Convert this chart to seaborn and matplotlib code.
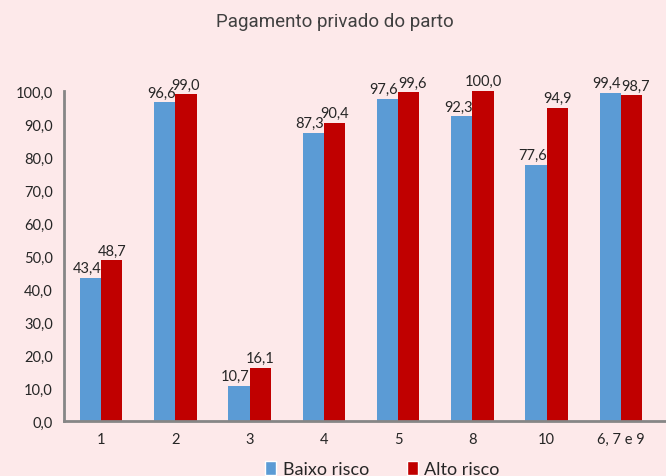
import matplotlib
matplotlib.use("Agg")
import matplotlib.pyplot as plt
import seaborn as sns
import pandas as pd
from matplotlib.patches import Patch

categories = ["1", "2", "3", "4", "5", "8", "10", "6, 7 e 9"]
baixo = [43.4, 96.6, 10.7, 87.3, 97.6, 92.3, 77.6, 99.4]
alto = [48.7, 99.0, 16.1, 90.4, 99.6, 100.0, 94.9, 98.7]
series = ["Baixo risco", "Alto risco"]
yticks = [0, 10, 20, 30, 40, 50, 60, 70, 80, 90, 100]

df = pd.DataFrame({
    "cat": categories * 2,
    "val": baixo + alto,
    "serie": [series[0]] * len(categories) + [series[1]] * len(categories),
})

bg = "#FDE9EA"
colors = {"Baixo risco": "#5B9BD5", "Alto risco": "#C00000"}
sns.set_style("white")
plt.rcParams["font.family"] = ["Lato", "DejaVu Sans"]

fig = plt.figure(figsize=(6.66, 4.77), dpi=100, facecolor=bg)
ax = fig.add_axes([64 / 666, 55 / 477, (666 - 64) / 666, (422 - 92) / 477])
ax.set_facecolor(bg)

sns.barplot(data=df, x="cat", y="val", hue="serie", order=categories,
            hue_order=series, palette=colors, width=0.57, ax=ax,
            legend=False, saturation=1, errorbar=None, linewidth=0)

def fmt(v):
    return f"{v:.1f}".replace(".", ",")

blue_c, red_c = ax.containers[0], ax.containers[1]
for bb, rb, vb, vr in zip(blue_c.patches, red_c.patches, blue_c.datavalues, red_c.datavalues):
    # blue label: right-aligned to the bar's right edge
    ax.annotate(fmt(vb), (bb.get_x() + bb.get_width(), bb.get_height()), xytext=(0, 2),
                textcoords="offset points", ha="right", va="bottom", fontsize=10.5)
    # red label: centered, unless it would collide with the blue label
    if vr - vb <= 2.1:
        ax.annotate(fmt(vr), (rb.get_x(), rb.get_height()), xytext=(0, 2),
                    textcoords="offset points", ha="left", va="bottom", fontsize=10.5)
    else:
        ax.annotate(fmt(vr), (rb.get_x() + rb.get_width() / 2, rb.get_height()), xytext=(0, 2),
                    textcoords="offset points", ha="center", va="bottom", fontsize=10.5)

ax.set_ylim(0, 100)
ax.set_xlim(-0.5, 7.5 + 8 / 74.3)
ax.set_yticks(yticks)
ax.set_yticklabels([fmt(v) for v in yticks], fontsize=10.5)
ax.set_xticks(range(len(categories)))
ax.set_xticklabels(categories, fontsize=10.5)
ax.set_xticks([i - 0.5 for i in range(len(categories) + 1)], minor=True)
ax.tick_params(axis="x", which="major", length=0, pad=8)
ax.tick_params(axis="x", which="minor", length=5, width=1.5, color="#868686", direction="out")
ax.tick_params(axis="y", length=5, width=1.5, color="#868686", direction="out", pad=3)
ax.set_xlabel("")
ax.set_ylabel("")
for s in ["top", "right"]:
    ax.spines[s].set_visible(False)
for s in ["left", "bottom"]:
    ax.spines[s].set_color("#868686")
    ax.spines[s].set_linewidth(2)

fig.text(0.503, 0.953, "Pagamento privado do parto", ha="center", va="center",
         fontsize=13.5, color="#404040", family=["Roboto", "DejaVu Sans"])

handles = [Patch(facecolor=colors[s], label=s) for s in series]
fig.legend(handles=handles, loc="center", bbox_to_anchor=(0.574, 0.014), ncol=2,
           frameon=False, fontsize=13, handlelength=0.6, handleheight=0.75,
           columnspacing=2.1, handletextpad=0.35)

fig.savefig("out.png", dpi=100, facecolor=bg)
